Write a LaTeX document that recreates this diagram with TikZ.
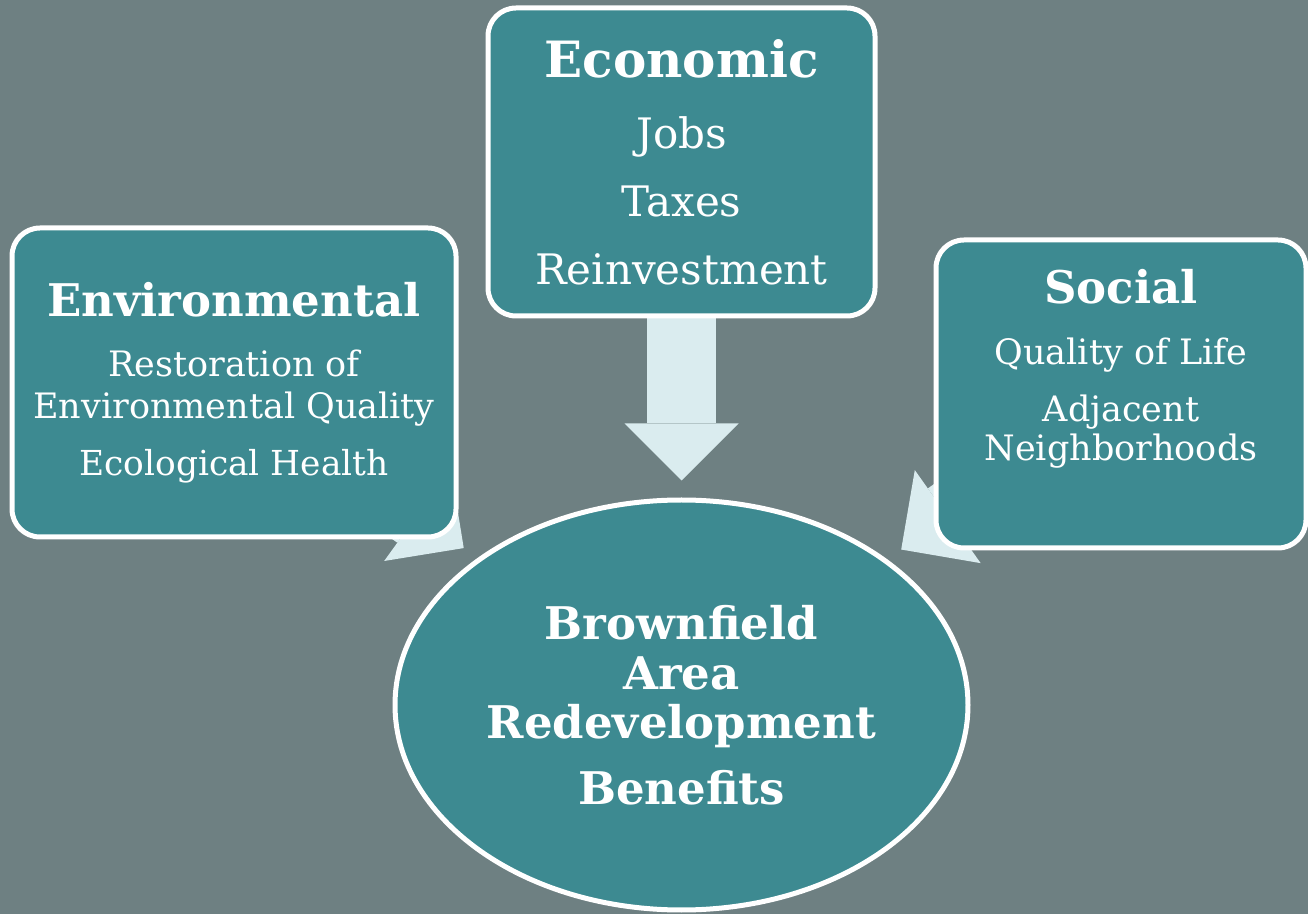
\documentclass[tikz,border=0pt]{standalone}
\usepackage{fontspec}
\setmainfont{DejaVu Serif}
\usetikzlibrary{arrows.meta, shapes.geometric}
\definecolor{miFondo}{RGB}{110, 128, 130}
\definecolor{miVerde}{RGB}{61, 138, 145}
\definecolor{miClaro}{RGB}{218, 236, 239}
\pgfdeclarelayer{fondo}
\pgfdeclarelayer{flechas}
\pgfsetlayers{fondo,flechas,main}

\begin{document}
\begin{tikzpicture}[
  x=0.5pt, y=-0.5pt,
  box/.style={draw=white, line width=2.5pt, rounded corners=14pt, fill=miVerde,
              text=white, align=center, minimum height=154pt, inner sep=0pt},
  goal/.style={ellipse, draw=white, line width=2.5pt, fill=miVerde, text=white,
               align=center, inner sep=0pt, minimum width=286.5pt, minimum height=205pt},
  arrow/.style={line width=34.5pt, miClaro, shorten >=8.5pt,
                -{Triangle[length=28.5pt, width=57pt, line width=0pt]}}
]
\path[use as bounding box] (0,0) rectangle (1308,914);

\node[box, minimum width=193.5pt, font=\fontsize{21}{34}\selectfont] (econ) at (681.5,162)
  {{\bfseries\fontsize{25}{25}\selectfont Economic}\\[1.5pt] Jobs\\ Taxes\\ Reinvestment};
\node[box, minimum width=222pt, minimum height=154.5pt, font=\fontsize{17.5}{21}\selectfont] (env) at (234,382.5)
  {{\bfseries\fontsize{22.5}{22.5}\selectfont Environmental}\\[9pt] Restoration of\\
   Environmental Quality\\[7.5pt] {\fontsize{17.2}{17.2}\selectfont Ecological Health}};
\node[box, minimum width=185pt, font=\fontsize{17.5}{19.5}\selectfont, text depth=29pt] (soc) at (1121,394)
  {{\bfseries\fontsize{22.5}{22.5}\selectfont Social}\\[11pt] Quality of Life\\[9pt] Adjacent\\ Neighborhoods};
\node[goal, font=\bfseries\fontsize{22.5}{24.5}\selectfont] (ben) at (681.5,705)
  {Brownfield\\[0.5pt] Area\\ Redevelopment\\[8.5pt] Benefits};

\begin{pgfonlayer}{flechas}
\draw[arrow] (econ.center) -- (ben);
\draw[arrow] (env.center) -- (ben);
\draw[arrow] (soc.center) -- (ben);
\end{pgfonlayer}

\begin{pgfonlayer}{fondo}
\fill[miFondo] (0,0) rectangle (1308,914);
\end{pgfonlayer}
\end{tikzpicture}
\end{document}
